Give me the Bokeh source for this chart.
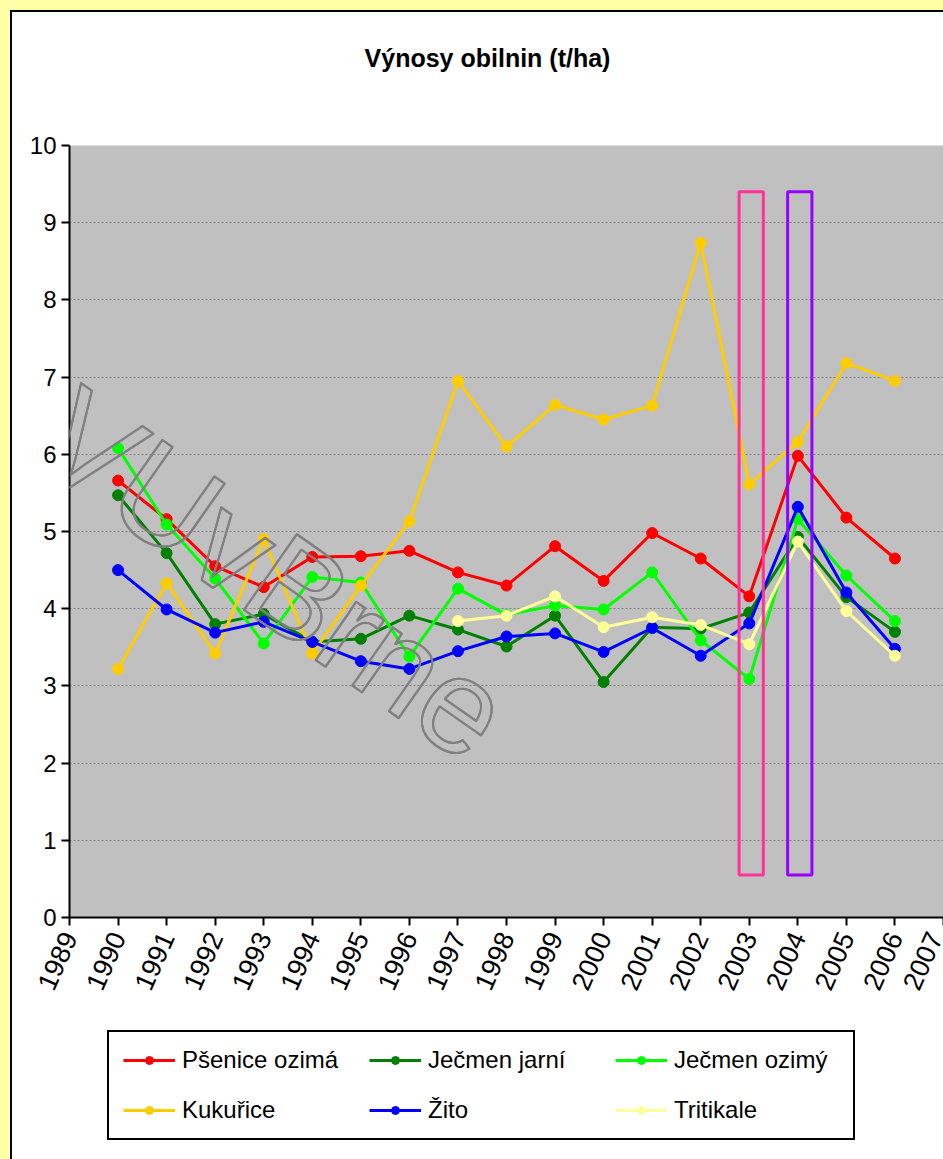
import numpy as np
from bokeh.plotting import figure
from bokeh.layouts import column
from bokeh.models import (ColumnDataSource, Legend, LegendItem, Range1d, FixedTicker,
                          Label, NumeralTickFormatter)
from bokeh.embed import file_html
from bokeh.resources import INLINE

# ---------------- data ----------------
years = list(range(1990, 2007))
x_ticks = list(range(1989, 2008))
y_ticks = list(range(0, 11))

psenice_ozima = [5.66, 5.16, 4.55, 4.28, 4.67, 4.68, 4.75, 4.47, 4.30, 4.81, 4.36, 4.98, 4.65, 4.16, 5.98, 5.18, 4.65]
jecmen_jarni = [5.47, 4.72, 3.80, 3.93, 3.57, 3.61, 3.91, 3.73, 3.51, 3.91, 3.05, 3.76, 3.74, 3.95, 4.93, 4.15, 3.70]
jecmen_ozimy = [6.08, 5.09, 4.39, 3.55, 4.41, 4.34, 3.38, 4.26, 3.92, 4.04, 3.99, 4.47, 3.59, 3.09, 5.16, 4.43, 3.84]
kukurice = [3.22, 4.33, 3.42, 4.90, 3.42, 4.30, 5.13, 6.95, 6.10, 6.64, 6.45, 6.63, 8.74, 5.61, 6.16, 7.18, 6.95]
zito = [4.50, 3.99, 3.69, 3.83, 3.57, 3.32, 3.22, 3.45, 3.64, 3.68, 3.44, 3.75, 3.39, 3.81, 5.32, 4.21, 3.48]
tritikale = [np.nan] * 7 + [3.84, 3.91, 4.16, 3.76, 3.89, 3.79, 3.54, 4.87, 3.97, 3.39]

series_names = ["Pšenice ozimá", "Ječmen jarní", "Ječmen ozimý", "Kukuřice", "Žito", "Tritikale"]
series_values = [psenice_ozima, jecmen_jarni, jecmen_ozimy, kukurice, zito, tritikale]
series_colors = ["#FF0000", "#008000", "#00FF00", "#FFCC00", "#0000FF", "#FFFF99"]

highlight_years = [2003, 2004]
highlight_colors = ["#FF3399", "#9900FF"]
highlight_bottom = 0.55
highlight_top = 9.4

title_text = "Výnosy obilnin (t/ha)"
watermark_text = "VUvBrne"

FONT = "Liberation Sans"
W, H = 943, 1159
FL, FT, FB = 69, 145, 917   # frame left / top / bottom (page px)

# ---------------- main figure ----------------
p = figure(width=W, height=H, output_backend="svg", toolbar_location=None,
           x_range=Range1d(1989, 2007), y_range=Range1d(0, 10),
           min_border_left=FL, min_border_right=0, min_border_top=FT, min_border_bottom=H - FB,
           background_fill_color="#C0C0C0", border_fill_alpha=0,
           outline_line_color=None)
p.styles = {"background-color": "#FFFFFF",
            "box-shadow": "inset 10px 10px 0 0 #FFFFA6, inset 12px 12px 0 0 #000000"}

for ax in (p.xaxis[0], p.yaxis[0]):
    ax.axis_line_width = 2
    ax.axis_line_color = "#000000"
    ax.major_tick_line_width = 2
    ax.major_tick_line_color = "#000000"
    ax.major_tick_out = 8
    ax.major_tick_in = 0
    ax.minor_tick_line_color = None
    ax.major_label_text_font = FONT
    ax.major_label_text_color = "#000000"

p.xaxis.ticker = FixedTicker(ticks=x_ticks)
p.xaxis.formatter = NumeralTickFormatter(format="0")
p.xaxis.major_label_orientation = np.deg2rad(66)
p.xaxis.major_label_text_font_size = "27px"
p.xaxis.major_label_standoff = 8
p.yaxis.ticker = FixedTicker(ticks=y_ticks)
p.yaxis.major_label_text_font_size = "24px"
p.yaxis.major_label_standoff = 5

p.xgrid.visible = False
p.ygrid.grid_line_color = "#808080"
p.ygrid.grid_line_dash = "2 2"
p.ygrid.grid_line_width = 1

for name, vals, col in zip(series_names, series_values, series_colors):
    src = ColumnDataSource(dict(x=years, y=vals))
    p.line("x", "y", source=src, line_color=col, line_width=3)
    p.scatter("x", "y", source=src, marker="circle", size=11, fill_color=col, line_color=col)

hw = 0.25
hsrc = ColumnDataSource(dict(left=[y - hw + 0.04 for y in highlight_years],
                             right=[y + hw + 0.04 for y in highlight_years],
                             bottom=[highlight_bottom] * len(highlight_years),
                             top=[highlight_top] * len(highlight_years),
                             color=highlight_colors))
p.quad(left="left", right="right", bottom="bottom", top="top", source=hsrc,
       fill_color=None, line_color="color", line_width=3)

# ---------------- overlay (title, watermark, legend) in page pixels ----------------
ov = figure(width=W, height=H, output_backend="svg", toolbar_location=None,
            x_range=Range1d(FL, W), y_range=Range1d(H, 0),
            x_axis_type=None, y_axis_type=None,
            min_border_left=FL, min_border_right=0, min_border_top=0, min_border_bottom=0,
            background_fill_alpha=0, border_fill_alpha=0, outline_line_color=None)
ov.styles = {"position": "absolute", "top": "0px", "left": "0px", "pointer-events": "none"}

ov.add_layout(Label(x=487, y=57, text=title_text, text_font=FONT, text_font_size="25px",
                    text_font_style="bold", text_color="#000000",
                    text_align="center", text_baseline="middle"))

for dx, dy in [(0, 0), (1, 0), (0, 1), (1, 1)]:
    ov.add_layout(Label(x=273, y=574, x_offset=dx, y_offset=dy, text=watermark_text,
                        angle=np.deg2rad(-35), text_font=FONT, text_font_size="134px",
                        text_align="center", text_baseline="middle",
                        text_color="rgba(0,0,0,0)", text_outline_color="#808080"))

items = []
for name, col in zip(series_names, series_colors):
    s = ColumnDataSource(dict(x=[np.nan], y=[np.nan]))
    lr = ov.line("x", "y", source=s, line_color=col, line_width=3)
    sr = ov.scatter("x", "y", source=s, marker="circle", size=11, fill_color=col, line_color=col)
    items.append(LegendItem(label=name, renderers=[lr, sr]))

legend = Legend(items=items, location=(107 - FL, H - 1140), orientation="horizontal", nrows=2,
                label_text_font=FONT, label_text_font_size="24px", label_text_color="#000000",
                glyph_width=52, glyph_height=20, label_standoff=7, label_width=165,
                spacing=22, padding=14, margin=0,
                border_line_color="#000000", border_line_width=2, border_line_alpha=1,
                background_fill_color="#FFFFFF", background_fill_alpha=1)
ov.add_layout(legend, "center")

layout = column(p, ov)
open("out.html", "w").write(file_html(layout, INLINE))
